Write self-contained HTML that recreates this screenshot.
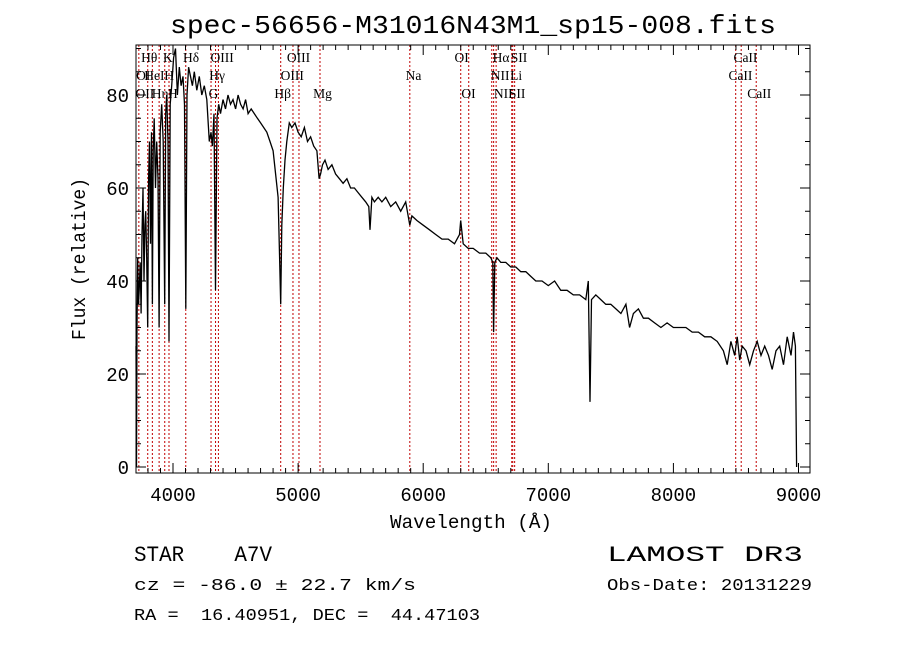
<!DOCTYPE html>
<html><head><meta charset="utf-8"><style>
body{margin:0;background:#fff}
svg{display:block}
text{font-family:"Liberation Mono","DejaVu Sans Mono",monospace;fill:#000;white-space:pre}
.ln{font-family:"Liberation Serif",serif;font-size:13.5px}
</style></head><body>
<svg id="chart" width="900" height="649" viewBox="0 0 900 649" xml:space="preserve">
<rect width="900" height="649" fill="#fff"/>
<text x="473" y="33" font-size="26" text-anchor="middle" textLength="606" lengthAdjust="spacingAndGlyphs">spec-56656-M31016N43M1_sp15-008.fits</text>
<g id="lines"></g>
<g id="labels"></g>
<polyline id="spec" fill="none" stroke="#000" stroke-width="1.3"/>
<rect x="136" y="45" width="674" height="428" fill="none" stroke="#000" stroke-width="1"/>
<g id="axes"></g>
<text x="471" y="528" font-size="19" text-anchor="middle" textLength="162" lengthAdjust="spacingAndGlyphs">Wavelength (Å)</text>
<text transform="translate(85,259) rotate(-90)" font-size="19" text-anchor="middle" textLength="162" lengthAdjust="spacingAndGlyphs">Flux (relative)</text>
<text x="134" y="561" font-size="22" textLength="138" lengthAdjust="spacingAndGlyphs">STAR    A7V</text>
<text x="607" y="561" font-size="22" textLength="196" lengthAdjust="spacingAndGlyphs">LAMOST DR3</text>
<text x="134" y="590" font-size="17" textLength="282" lengthAdjust="spacingAndGlyphs">cz = -86.0 ± 22.7 km/s</text>
<text x="607" y="590" font-size="17" textLength="205" lengthAdjust="spacingAndGlyphs">Obs-Date: 20131229</text>
<text x="134" y="620" font-size="17" textLength="346" lengthAdjust="spacingAndGlyphs">RA =  16.40951, DEC =  44.47103</text>
</svg>
<script>
const waves=[3704,3708,3712,3718,3724,3730,3738,3745,3752,3760,3768,3775,3782,3790,3798,3805,3812,3820,3828,3835,3842,3850,3860,3870,3880,3889,3898,3910,3922,3934,3942,3950,3960,3968,3978,3990,4005,4020,4035,4050,4065,4080,4092,4102,4112,4125,4140,4155,4170,4190,4210,4230,4250,4270,4290,4304,4315,4328,4340,4352,4365,4380,4400,4420,4440,4460,4480,4500,4520,4540,4560,4580,4600,4625,4650,4675,4700,4725,4750,4775,4800,4820,4840,4852,4861,4870,4882,4895,4910,4930,4950,4975,5000,5025,5050,5075,5100,5125,5150,5168,5180,5195,5215,5240,5270,5300,5330,5360,5390,5420,5450,5480,5510,5540,5565,5575,5590,5610,5640,5670,5700,5740,5780,5820,5860,5893,5910,5950,6000,6050,6100,6150,6200,6250,6290,6300,6320,6360,6400,6450,6500,6540,6556,6563,6572,6590,6620,6660,6700,6740,6780,6820,6860,6900,6950,7000,7050,7100,7150,7200,7250,7300,7320,7333,7345,7380,7420,7460,7500,7540,7580,7620,7650,7680,7720,7760,7800,7850,7900,7950,8000,8050,8100,8150,8200,8250,8300,8350,8400,8430,8460,8490,8510,8530,8550,8580,8610,8640,8670,8700,8730,8760,8790,8820,8850,8880,8910,8940,8960,8975,8985,8995,9000,9004];
const fluxes=[26,0,30,45,35,38,44,33,50,60,40,52,55,45,30,62,70,48,72,35,68,75,60,70,62,30,72,78,70,35,76,80,70,27,78,82,88,90,80,86,82,84,78,34,80,86,84,82,85,81,84,80,82,79,70,72,69,76,38,75,78,76,79,77,80,78,79,77,80,78,77,79,76,77,76,75,74,73,72,70,68,63,58,45,35,52,60,66,70,74,73,74,72,71,73,70,71,69,68,62,63,65,66,64,65,63,62,61,62,60,60,59,58,57,56,51,58,57,58,57,58,56,57,55,57,52,54,53,52,51,50,49,49,48,50,53,48,47,47,46,46,45,44,29,44,45,44,44,43,43,42,42,41,40,40,39,40,38,38,37,37,36,40,14,36,37,36,35,35,34,33,35,30,33,34,32,32,31,30,31,30,30,30,29,29,28,28,27,25,22,27,24,28,23,26,25,22,25,27,24,26,24,21,25,26,22,28,24,29,26,0];
const lineWaves=[3727,3798,3835,3889,3934,3968,4102,4304,4340,4363,4861,4959,5007,5175,5893,6300,6364,6548,6563,6583,6708,6716,6731,8498,8542,8662];
const xTicks=[4000,5000,6000,7000,8000,9000];
const yTicks=[0,20,40,60,80];
const labelTexts=[["Hθ",3745,57],["K",3920,57],["Hδ",4080,57],["OIII",4300,57],["OIII",4910,57],["OI",6250,57],["Hα",6555,57],["SII",6700,57],["CaII",8480,57],
["OI",3705,75],["HeI",3770,75],["H",3930,75],["Hγ",4290,75],["OIII",4860,75],["Na",5860,75],["NII",6540,75],["Li",6695,75],["CaII",8440,75],
["OII",3700,93],["Hη",3830,93],["H",3960,93],["G",4285,93],["Hβ",4810,93],["Mg",5120,93],["OI",6305,93],["NII",6565,93],["SII",6685,93],["CaII",8590,93]];
const X0=136,X1=810,Y0=45,Y1=473;
function sx(w){return 173+(w-4000)*0.1251;}
function sy(f){return 467-f*4.65;}
const NS="http://www.w3.org/2000/svg";
const lg=document.getElementById('lines');
lineWaves.forEach(w=>{const l=document.createElementNS(NS,'line');
l.setAttribute('x1',sx(w));l.setAttribute('x2',sx(w));l.setAttribute('y1',Y0);l.setAttribute('y2',Y1);
l.setAttribute('stroke','#c00000');l.setAttribute('stroke-width','1');l.setAttribute('stroke-dasharray','2,2');


lg.appendChild(l);});
const lb=document.getElementById('labels');
labelTexts.forEach(t=>{const e=document.createElementNS(NS,'text');
e.setAttribute('x',sx(t[1]));e.setAttribute('y',t[2]+5);e.setAttribute('class','ln');e.textContent=t[0];


lb.appendChild(e);});
document.getElementById('spec').setAttribute('points',waves.map((w,i)=>sx(w).toFixed(1)+','+Math.min(Y1,sy(fluxes[i])).toFixed(1)).join(' '));
const ax=document.getElementById('axes');
function ln(x1,y1,x2,y2){const l=document.createElementNS(NS,'line');l.setAttribute('x1',x1);l.setAttribute('y1',y1);l.setAttribute('x2',x2);l.setAttribute('y2',y2);l.setAttribute('stroke','#000');


ax.appendChild(l);}
for(let w=3800;w<=9100;w+=100){const x=sx(w);if(x<X0||x>X1)continue;const big=w%1000===0;const L=big?10:5;ln(x,Y1,x,Y1-L);ln(x,Y0,x,Y0+L);}
for(let f=0;f<=90;f+=5){const y=sy(f);const big=f%20===0;const L=big?10:5;ln(X0,y,X0+L,y);ln(X1,y,X1-L,y);}
xTicks.forEach(w=>{const t=document.createElementNS(NS,'text');t.setAttribute('x',sx(w));t.setAttribute('y',501);t.setAttribute('font-size','19');t.setAttribute('text-anchor','middle');t.textContent=w;


ax.appendChild(t);});
yTicks.forEach(f=>{const t=document.createElementNS(NS,'text');t.setAttribute('x',129);t.setAttribute('y',sy(f)+7);t.setAttribute('font-size','19');t.setAttribute('text-anchor','end');t.textContent=f;


ax.appendChild(t);});
</script>
</body></html>
